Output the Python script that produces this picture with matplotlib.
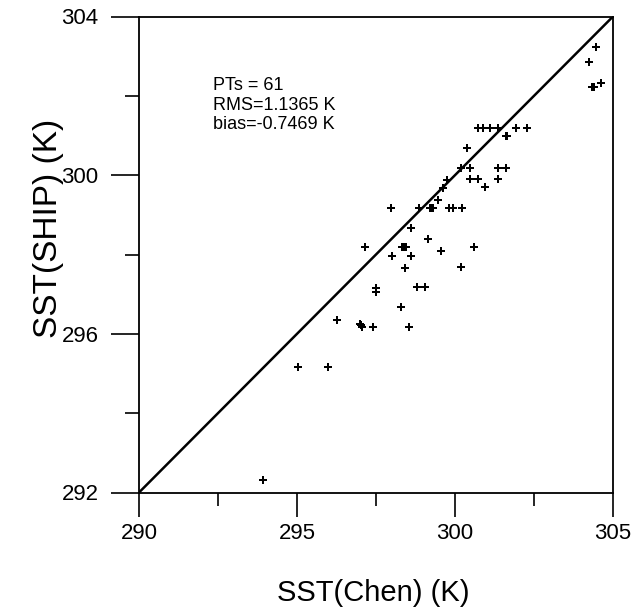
import matplotlib
matplotlib.use("Agg")
import matplotlib.pyplot as plt
from matplotlib.ticker import MultipleLocator

plt.rcParams['font.family'] = ['Liberation Sans', 'DejaVu Sans']

sst_chen = [293.93, 295.04, 295.99, 296.27, 296.99, 297.07, 297.40, 298.55, 298.28,
            297.50, 297.50, 298.81, 299.05, 297.15, 298.02, 298.31, 298.45, 298.43,
            298.61, 298.61, 299.16, 299.55, 300.19, 300.61, 297.97, 298.87, 299.21,
            299.31, 299.82, 299.95, 300.21, 299.47, 299.63, 299.74, 300.37, 300.19,
            300.47, 300.47, 300.72, 300.95, 301.35, 301.35, 301.60, 300.72, 300.90,
            301.11, 301.37, 301.93, 302.29, 301.60, 301.66, 304.24, 304.45, 304.32,
            304.40, 304.62, 299.26, 301.63, 304.36, 297.03, 298.38]
sst_ship = [292.32, 295.17, 295.17, 296.36, 296.26, 296.18, 296.18, 296.18, 296.67,
            297.16, 297.06, 297.19, 297.19, 298.18, 297.96, 298.18, 298.18, 297.67,
            297.96, 298.66, 298.38, 298.09, 297.69, 298.20, 299.17, 299.17, 299.17,
            299.17, 299.17, 299.17, 299.17, 299.38, 299.67, 299.88, 300.68, 300.19,
            300.19, 299.90, 299.90, 299.69, 299.90, 300.19, 300.19, 301.20, 301.20,
            301.20, 301.20, 301.20, 301.20, 300.99, 300.99, 302.85, 303.24, 302.22,
            302.22, 302.32, 299.17, 300.99, 302.22, 296.22, 298.18]

x_range = [290, 305]
y_range = [292, 304]
x_major = [290, 295, 300, 305]
y_major = [292, 296, 300, 304]
stats_lines = ["PTs = 61", "RMS=1.1365 K", "bias=-0.7469 K"]

fig = plt.figure(figsize=(6.33, 6.14), dpi=100)
ax = fig.add_axes([139/633, 1-492.5/614, 474/633, 476/614])

ax.plot(x_range, y_range, color='black', lw=1.8, solid_capstyle='butt')
ax.plot(sst_chen, sst_ship, linestyle='none', marker='P', markersize=5.5,
        color='black', markeredgewidth=0)

ax.set_xlim(x_range)
ax.set_ylim(y_range)
ax.set_xticks(x_major)
ax.set_yticks(y_major)
ax.xaxis.set_minor_locator(MultipleLocator(2.5))
ax.yaxis.set_minor_locator(MultipleLocator(2))

for s in ax.spines.values():
    s.set_linewidth(1.3)

ax.tick_params(axis='x', which='major', direction='out', length=17, width=1.2,
               labelsize=16, pad=5)
ax.tick_params(axis='x', which='minor', direction='out', length=9, width=1.2)
ax.tick_params(axis='y', which='major', direction='out', length=20, width=1.2,
               labelsize=16, pad=9)
ax.tick_params(axis='y', which='minor', direction='out', length=10, width=1.2)

ys = [0.8456, 0.8036, 0.7637]
for t, yy in zip(stats_lines, ys):
    ax.text(0.156, yy, t, transform=ax.transAxes, fontsize=13,
            va='baseline', ha='left')

fig.text(373/633, 1-593/614, "SST(Chen) (K)", fontsize=21, ha='center', va='center')
fig.text(48/633, 1-228/614, "SST(SHIP) (K)", fontsize=24, ha='center', va='center',
         rotation=90)

fig.savefig("out.png", dpi=100)
